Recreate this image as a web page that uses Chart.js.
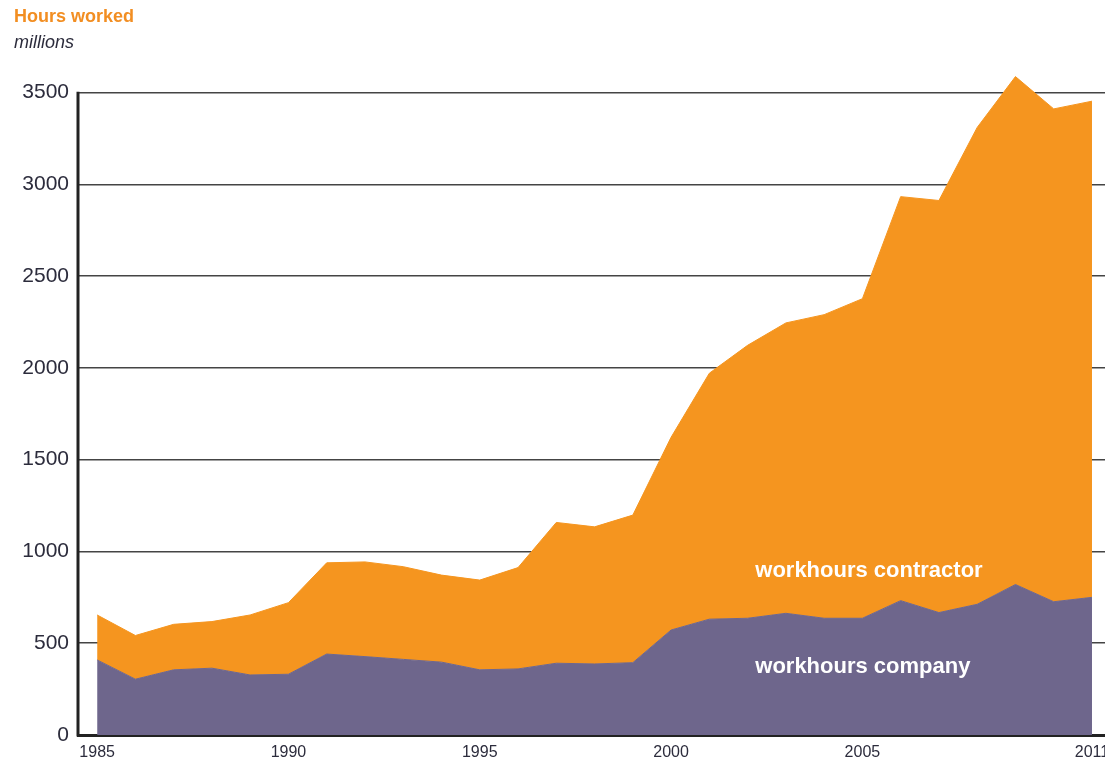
<!DOCTYPE html>
<html>
<head>
<meta charset="utf-8">
<script src="https://cdn.jsdelivr.net/npm/chart.js@4"></script>
<style>
  html, body { margin: 0; padding: 0; background: #fff; }
  #wrap { width: 1105px; height: 766px; }
</style>
</head>
<body>
<div id="wrap"><canvas id="myChart"></canvas></div>
<script>
const years = [1985, 1986, 1987, 1988, 1989, 1990, 1991, 1992, 1993, 1994, 1995, 1996, 1997, 1998,
    1999, 2000, 2001, 2002, 2003, 2004, 2005, 2006, 2007, 2008, 2009, 2010, 2011];

// millions of hours, company staff (bottom layer)
const companyHours = [409, 304, 355, 364, 327, 331, 441, 427, 412, 397, 355, 360, 391, 387,
    394, 572, 631, 636, 663, 636, 636, 732, 667, 712, 820, 726, 750];

// millions of hours, contractors (stacked on top)
const contractorHours = [245, 238, 248, 254, 327, 390, 497, 516, 505, 474, 489, 552, 767, 747,
    804, 1050, 1340, 1487, 1582, 1654, 1741, 2201, 2245, 2598, 2767, 2685, 2703];

const xTickYears = [1985, 1990, 1995, 2000, 2005, 2011];
const yTickValues = [0, 500, 1000, 1500, 2000, 2500, 3000, 3500];

const seriesNames = ['workhours company', 'workhours contractor'];

const FONT = '"Liberation Sans", Arial, sans-serif';
const orange = '#F5951F';
const purple = '#6E668C';
const textDark = '#2c2c3c';

const toPoints = (vals) => years.map((y, i) => ({ x: y, y: vals[i] }));

// left axis line (only up to the top tick) + white labels inside the areas
const extras = {
    id: 'extras',
    afterDatasetsDraw(chart) {
        const { ctx, chartArea, scales: { x, y } } = chart;
        ctx.save();
        ctx.strokeStyle = '#222';
        ctx.lineWidth = 3;
        ctx.beginPath();
        ctx.moveTo(chartArea.left, y.getPixelForValue(yTickValues[yTickValues.length - 1]) - 0.75);
        ctx.lineTo(chartArea.left, chartArea.bottom + 1.5);
        ctx.stroke();

        ctx.fillStyle = '#ffffff';
        ctx.font = 'bold 22px ' + FONT;
        ctx.textAlign = 'left';
        ctx.textBaseline = 'alphabetic';
        ctx.fillText(seriesNames[1], x.getPixelForValue(2002.2), y.getPixelForValue(860));
        ctx.fillText(seriesNames[0], x.getPixelForValue(2002.2), y.getPixelForValue(338));
        ctx.restore();
    }
};

const cts = document.querySelector('#myChart').getContext('2d');

const config = {
    type: 'line',
    data: {
        datasets: [
            {
                label: seriesNames[0],
                data: toPoints(companyHours),
                backgroundColor: purple,
                borderColor: purple,
                borderWidth: 1,
                fill: 'origin',
                pointRadius: 0,
                tension: 0,
            },
            {
                label: seriesNames[1],
                data: toPoints(contractorHours),
                backgroundColor: orange,
                borderColor: orange,
                borderWidth: 1,
                fill: '-1',
                pointRadius: 0,
                tension: 0,
            },
        ],
    },
    options: {
        responsive: true,
        maintainAspectRatio: false,
        animation: false,
        layout: { padding: { left: 14, right: 0, top: 0, bottom: 0 } },
        plugins: {
            legend: { display: false },
            tooltip: { enabled: false },
            title: {
                display: true,
                text: 'Hours worked',
                align: 'start',
                color: '#F28E22',
                font: { family: FONT, size: 18, weight: 'bold' },
                padding: { top: 6, bottom: 0 },
            },
            subtitle: {
                display: true,
                text: 'millions',
                align: 'start',
                color: textDark,
                font: { family: FONT, size: 18, style: 'italic' },
                padding: { top: 5, bottom: 20 },
            },
        },
        scales: {
            x: {
                type: 'linear',
                min: 1984.5,
                max: 2011.34,
                afterBuildTicks(scale) {
                    scale.ticks = xTickYears.map(v => ({ value: v }));
                },
                afterFit(scale) {
                    scale.paddingRight = 0;
                    scale.paddingLeft = 0;
                    scale.height = 31;
                },
                grid: { display: false, drawTicks: false },
                border: { display: true, color: '#222', width: 3 },
                ticks: {
                    color: textDark,
                    font: { family: FONT, size: 16 },
                    padding: 8,
                    maxRotation: 0,
                    autoSkip: false,
                    callback: (v) => String(v),
                },
            },
            y: {
                stacked: true,
                min: 0,
                max: 3600,
                afterBuildTicks(scale) {
                    scale.ticks = yTickValues.map(v => ({ value: v }));
                },
                afterFit(scale) {
                    scale.width = 64;
                },
                grid: { color: '#444', lineWidth: 1.5, drawTicks: false },
                border: { display: false },
                ticks: {
                    color: textDark,
                    font: { family: FONT, size: 21 },
                    padding: 9,
                    callback: (v) => String(v),
                },
            },
        },
    },
    plugins: [extras],
};

const myChart = new Chart(cts, config);
</script>
</body>
</html>
